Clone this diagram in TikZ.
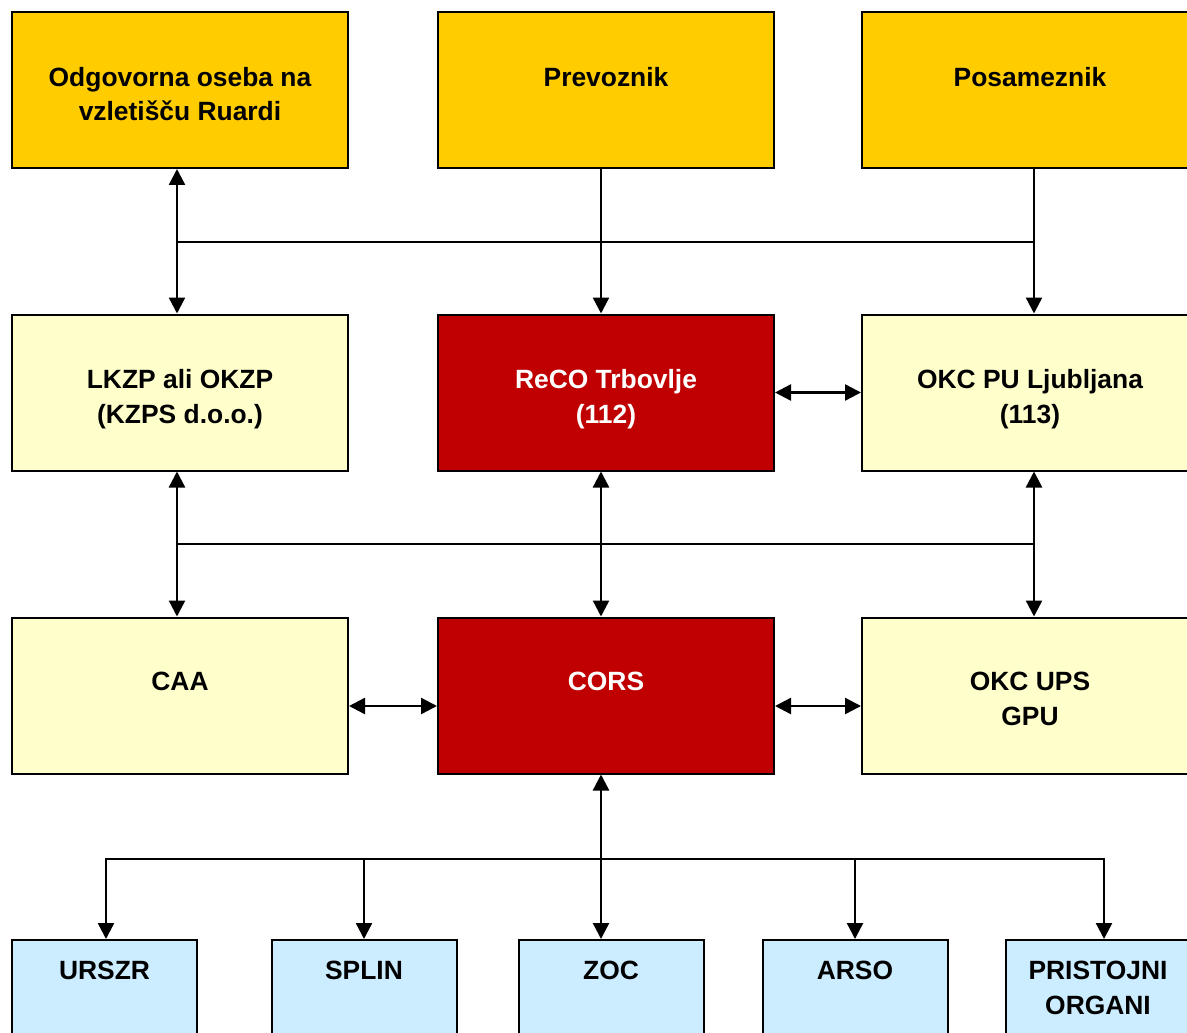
\documentclass[tikz,border=0pt]{standalone}
\usepackage{fontspec}
\setmainfont{Liberation Sans}
\usetikzlibrary{arrows.meta}

\definecolor{gold}{HTML}{FFCC00}
\definecolor{pale}{HTML}{FFFFCC}
\definecolor{dred}{HTML}{C00000}
\definecolor{sky}{HTML}{CCECFF}

\tikzset{
  box/.style={draw=black, line width=1pt, minimum width=168pt, minimum height=78pt, inner sep=0pt},
  sbox/.style={box, minimum width=92.5pt, fill=sky},
  txt/.style={anchor=north, yshift=-27.8pt, inner sep=0pt, align=center, font=\bfseries\fontsize{13.2}{17.4}\selectfont},
  btxt/.style={txt, yshift=17pt},
  con/.style={line width=1.2pt},
  arr/.style={con, -{Triangle[length=8pt,width=8pt]}},
  darr/.style={con, {Triangle[length=8pt,width=8pt]}-{Triangle[length=8pt,width=8pt]}},
}

\begin{document}
\begin{tikzpicture}[x=0.5pt, y=-0.5pt]
    \useasboundingbox (0,0) rectangle (1187,1032);
    \clip (0,0) rectangle (1187,1032);

    % top row
    \node[box, fill=gold, label={[txt]north:{Odgovorna oseba na\\vzletišču Ruardi}}] (odg) at (180,90) {};
    \node[box, fill=gold, label={[txt]north:Prevoznik}] (prev) at (606,90) {};
    \node[box, fill=gold, label={[txt]north:Posameznik}] (posa) at (1030,90) {};

    % second row
    \node[box, fill=pale, label={[txt]north:{LKZP ali OKZP\\(KZPS d.o.o.)}}] (lkzp) at (180,392.5) {};
    \node[box, fill=dred, label={[txt, white]north:{ReCO Trbovlje\\(112)}}] (reco) at (606,392.5) {};
    \node[box, fill=pale, label={[txt]north:{OKC PU Ljubljana\\(113)}}] (okcpu) at (1030,392.5) {};

    % third row
    \node[box, fill=pale, label={[txt]north:CAA}] (caa) at (180,695.5) {};
    \node[box, fill=dred, label={[txt, white]north:CORS}] (cors) at (606,695.5) {};
    \node[box, fill=pale, label={[txt]north:{OKC UPS\\GPU}}] (okcups) at (1030,695.5) {};

    % bottom row
    \node[sbox, label={[btxt]north:URSZR}] (urszr) at (104.5,1018) {};
    \node[sbox, label={[btxt]north:SPLIN}] (splin) at (364,1018) {};
    \node[sbox, label={[btxt]north:ZOC}] (zoc) at (611,1018) {};
    \node[sbox, label={[btxt]north:ARSO}] (arso) at (855,1018) {};
    \node[sbox, label={[btxt]north:{PRISTOJNI\\ORGANI}}] (prist) at (1098,1018) {};

    \coordinate (j1) at (0,242);
    \coordinate (j2) at (0,544);
    \coordinate (j3) at (0,859);

    % top to second row
    \draw[darr] ([xshift=-1.5pt]odg.south) -- ([xshift=-1.5pt]lkzp.north);
    \draw[arr] ([xshift=-2.5pt]prev.south) -- ([xshift=-2.5pt]reco.north);
    \draw[arr] ([xshift=2pt]posa.south) -- ([xshift=2pt]okcpu.north);
    \draw[con] ([xshift=-1.5pt]odg.south |- j1) -- ([xshift=2pt]posa.south |- j1);

    % second to third row
    \draw[darr] ([xshift=-1.5pt]lkzp.south) -- ([xshift=-1.5pt]caa.north);
    \draw[darr] ([xshift=-2.5pt]reco.south) -- ([xshift=-2.5pt]cors.north);
    \draw[darr] ([xshift=2pt]okcpu.south) -- ([xshift=2pt]okcups.north);
    \draw[con] ([xshift=-1.5pt]lkzp.south |- j2) -- ([xshift=2pt]okcpu.south |- j2);

    % side links
    \draw[darr] (reco.east) -- (okcpu.west);
    \draw[darr] ([yshift=-5.25pt]caa.east) -- ([yshift=-5.25pt]cors.west);
    \draw[darr] ([yshift=-5.25pt]cors.east) -- ([yshift=-5.25pt]okcups.west);

    % CORS to bottom row
    \draw[arr] ([xshift=-2.5pt]cors.south |- j3) -- ([xshift=-2.5pt]cors.south);
    \draw[arr] ([xshift=-2.5pt]cors.south |- j3) -- ([xshift=-2.5pt]cors.south |- zoc.north);
    \draw[arr] ([xshift=-2.5pt]cors.south |- j3) -| ([xshift=0.75pt]urszr.north);
    \draw[arr] ([xshift=-2.5pt]cors.south |- j3) -| ([xshift=3pt]prist.north);
    \foreach \n in {splin,arso} { \draw[arr] (\n.north |- j3) -- (\n.north);}
\end{tikzpicture}
\end{document}
